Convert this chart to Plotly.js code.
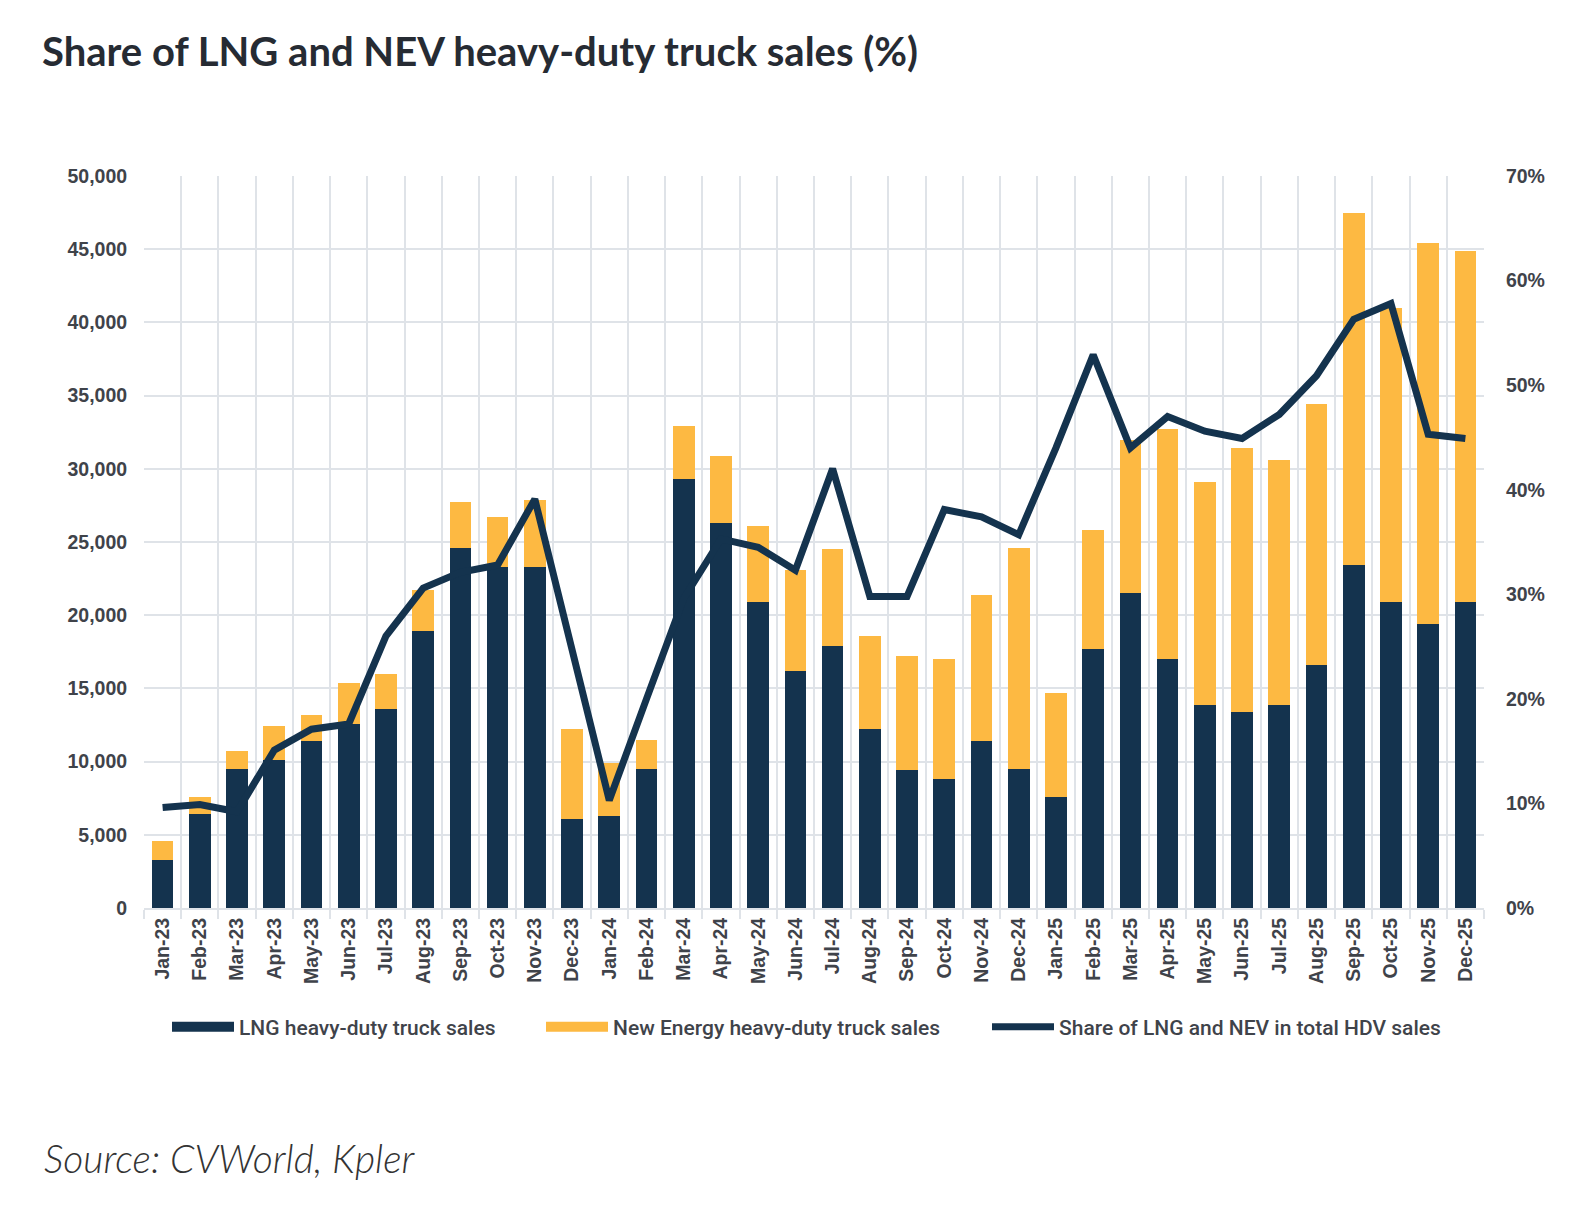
<!DOCTYPE html>
<html>
<head>
<meta charset="utf-8">
<script src="https://cdn.plot.ly/plotly-3.0.1.min.js"></script>
<style>
html,body{margin:0;padding:0;background:#fff;}
#chart{width:1577px;height:1211px;}
</style>
</head>
<body>
<div id="chart"></div>
<script>
const months = ["Jan-23","Feb-23","Mar-23","Apr-23","May-23","Jun-23","Jul-23","Aug-23","Sep-23","Oct-23","Nov-23","Dec-23",
"Jan-24","Feb-24","Mar-24","Apr-24","May-24","Jun-24","Jul-24","Aug-24","Sep-24","Oct-24","Nov-24","Dec-24",
"Jan-25","Feb-25","Mar-25","Apr-25","May-25","Jun-25","Jul-25","Aug-25","Sep-25","Oct-25","Nov-25","Dec-25"];

const lngSales = [3300,6400,9500,10100,11400,12600,13600,18900,24600,23300,23300,6100,
6300,9500,29300,26300,20900,16200,17900,12200,9400,8800,11400,9500,
7600,17700,21500,17000,13900,13400,13900,16600,23400,20900,19400,20900];

const nevSales = [1300,1200,1200,2300,1800,2800,2350,2800,3100,3400,4600,6100,
3600,2000,3600,4600,5200,6900,6600,6400,7800,8200,10000,15100,
7100,8100,10500,15700,15200,18000,16700,17800,24050,20050,26000,24000];

const sharePct = [9.6,9.9,9.2,15.1,17.1,17.6,26.0,30.6,32.1,32.8,39.1,24.7,
10.3,20.0,29.6,35.3,34.5,32.3,42.0,29.8,29.8,38.1,37.4,35.7,
44.0,52.9,44.0,47.0,45.6,44.9,47.2,50.9,56.3,57.8,45.3,44.9];

const leftTicks = [0,5000,10000,15000,20000,25000,30000,35000,40000,45000,50000];
const rightTicks = [0,10,20,30,40,50,60,70];
const rightLabels = rightTicks.map(v => v + "%");

const seriesNames = ["LNG heavy-duty truck sales","New Energy heavy-duty truck sales","Share of LNG and NEV in total HDV sales"];

const navy = "#14334e";
const gold = "#fdb942";
const grid = "#dfe3e8";
const tickFont = {family:"Liberation Sans, Arial, sans-serif", size:19.5, color:"#3f434a", weight:700};

// plot area in pixels (for legend/annotation placement)
const PL = 144, PR = 1484, PT = 176, PB = 908;
const px2x = p => (p - PL) / (PR - PL);
const px2y = p => (PB - p) / (PB - PT);

const traces = [
  {type:"bar", name:seriesNames[0], x:months, y:lngSales, marker:{color:navy}, hoverinfo:"skip", showlegend:false},
  {type:"bar", name:seriesNames[1], x:months, y:nevSales, marker:{color:gold}, hoverinfo:"skip", showlegend:false},
  {type:"scatter", mode:"lines", name:seriesNames[2], x:months, y:sharePct, yaxis:"y2",
   line:{color:navy, width:7}, hoverinfo:"skip", showlegend:false},
  // legend swatches (no data)
  {type:"scatter", mode:"lines", name:seriesNames[0], x:[null], y:[null], line:{color:navy, width:13}, legend:"legend"},
  {type:"scatter", mode:"lines", name:seriesNames[1], x:[null], y:[null], line:{color:gold, width:13}, legend:"legend2"},
  {type:"scatter", mode:"lines", name:seriesNames[2], x:[null], y:[null], line:{color:navy, width:7}, legend:"legend3"}
];

const legFont = {family:"Roboto, sans-serif", size:21, color:"#3f434a", weight:500};
const legY = px2y(1027);
function leg(xpx){
  return {orientation:"h", x:px2x(xpx), xanchor:"left", y:legY, yanchor:"middle", font:legFont,
          itemwidth:62, bgcolor:"rgba(0,0,0,0)", borderwidth:0};
}

const layout = {
  width:1577, height:1211,
  paper_bgcolor:"#fff", plot_bgcolor:"#fff",
  margin:{l:PL, r:1577-PR, t:PT, b:1211-PB},
  barmode:"stack",
  bargap:0.417,
  showlegend:true,
  title:{text:"<b>Share of LNG and NEV heavy-duty truck sales (%)</b>", x:42/1577, xanchor:"left", xref:"container",
         y:1-52/1211, yanchor:"middle", yref:"container",
         font:{family:"Lato, Inter, sans-serif", size:40, color:"#262b33"}},
  xaxis:{type:"category", tickson:"boundaries", showgrid:true, gridcolor:grid, gridwidth:2,
         ticks:"outside", ticklen:9, tickcolor:grid, tickwidth:2,
         showline:true, linecolor:grid, linewidth:2,
         tickangle:-90, tickfont:{family:"Liberation Sans, Arial, sans-serif", size:19.5, color:"#3f434a", weight:700},
         fixedrange:true},
  yaxis:{range:[0,50000], tickmode:"array", tickvals:leftTicks, tickformat:",", showgrid:true, gridcolor:grid, gridwidth:2,
         zeroline:false, showline:false, ticks:"outside", ticklen:12, tickcolor:"rgba(0,0,0,0)",
         tickfont:tickFont, fixedrange:true},
  yaxis2:{range:[0,70], overlaying:"y", side:"right", tickmode:"array", tickvals:rightTicks, ticktext:rightLabels, showgrid:false,
          zeroline:false, showline:false, ticks:"outside", ticklen:17, tickcolor:"rgba(0,0,0,0)",
          tickfont:tickFont, fixedrange:true},
  legend:leg(167),
  legend2:leg(541),
  legend3:leg(987),
  annotations:[
    {text:"Source: CVWorld, Kpler", xref:"paper", yref:"paper", x:px2x(42), y:px2y(1158),
     xanchor:"left", yanchor:"middle", showarrow:false,
     font:{family:"Lato, sans-serif", size:39, color:"#333", style:"italic", weight:300}}
  ]
};

Plotly.newPlot("chart", traces, layout, {displayModeBar:false, staticPlot:true});
</script>
</body>
</html>
